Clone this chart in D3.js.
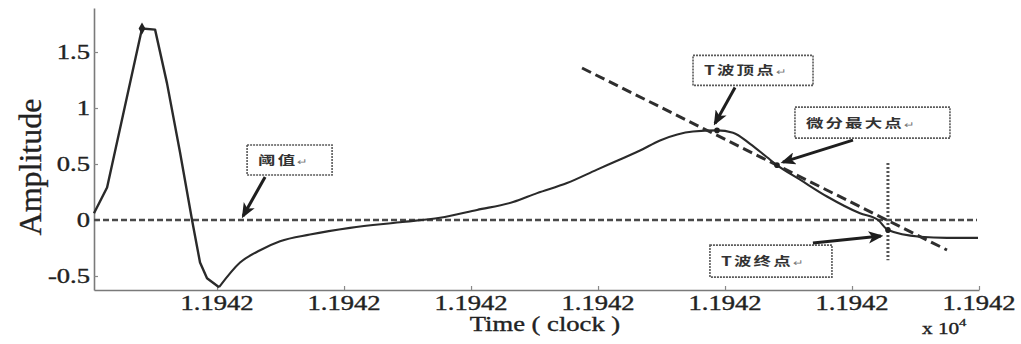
<!DOCTYPE html>
<html>
<head>
<meta charset="utf-8">
<script src="https://cdn.jsdelivr.net/npm/d3@7"></script>
<style>
  html, body { margin: 0; padding: 0; background: #ffffff; }
  svg { display: block; }
</style>
</head>
<body>
<svg id="chart" width="1021" height="344"></svg>
<script>
// ECG beat: amplitude against time (clock counts)
const timeClock = [
  11941.99031, 11941.99134, 11941.99409, 11941.99512, 11941.99606, 11941.99709,
  11941.99803, 11941.99866, 11941.99921, 11942.00016, 11942.00181, 11942.00339,
  11942.00496, 11942.00732, 11942.01047, 11942.01441, 11942.01756, 11942.02047,
  11942.02331, 11942.02520, 11942.02756, 11942.02992, 11942.03173, 11942.03331,
  11942.03488, 11942.03748, 11942.03937, 11942.04063, 11942.04197, 11942.04331,
  11942.04409, 11942.04591, 11942.04803, 11942.05063, 11942.05205, 11942.05283,
  11942.05535, 11942.05748, 11942.05992
];
const amplitude = [
  0.06, 0.29, 1.71, 1.70, 1.22, 0.60,
  0.00, -0.38, -0.52, -0.60, -0.38, -0.27,
  -0.19, -0.13, -0.07, -0.02, 0.02, 0.09,
  0.16, 0.24, 0.33, 0.45, 0.54, 0.62,
  0.71, 0.79, 0.80, 0.78, 0.68, 0.56,
  0.49, 0.36, 0.21, 0.06, 0.00, -0.09,
  -0.15, -0.16, -0.16
];

// indices of the detected feature points
const rPeakIndex = 2;
const sMinIndex = 9;
const tPeakIndex = 26;
const derivMaxIndex = 30;
const tEndIndex = 35;

// threshold level and the tangent drawn through the steepest point
const thresholdValue = 0;
const tangentTime = [11942.02874, 11942.05748];
const tangentAmplitude = [1.357, -0.268];
const tEndMarkerRange = [0.51, -0.36];
const thresholdArrowTime = 11942.00205;

// axes
const xDomain = [11941.99031, 11942.06];
const yDomain = [-0.625, 1.893];
const xTicks = [11942.00, 11942.01, 11942.02, 11942.03, 11942.04, 11942.05, 11942.06];
const xTickLabels = ["1.1942", "1.1942", "1.1942", "1.1942", "1.1942", "1.1942", "1.1942"];
const yTicks = [-0.5, 0, 0.5, 1, 1.5];
const yTickLabels = ["-0.5", "0", "0.5", "1", "1.5"];

const annotationLabels = ["阈值", "T波顶点", "微分最大点", "T波终点"];

const svg = d3.select("#chart");
const serif = "'Liberation Serif', 'Times New Roman', serif";
const cjk = "'Noto Sans CJK SC', 'Noto Sans', sans-serif";
const stretch = 1.33;

const x = d3.scaleLinear().domain(xDomain).range([94, 979]);
const y = d3.scaleLinear().domain(yDomain).range([290, 8]);

svg.append("rect").attr("width", 1021).attr("height", 344).attr("fill", "#ffffff");

// axes: lines and inward ticks
const xAxis = d3.axisBottom(x).tickValues(xTicks).tickFormat("").tickSizeInner(-4).tickSizeOuter(0);
const yAxis = d3.axisLeft(y).tickValues(yTicks).tickFormat("").tickSizeInner(-4).tickSizeOuter(0);
const gx = svg.append("g").attr("transform", `translate(0,${y.range()[0]})`).call(xAxis);
const gy = svg.append("g").attr("transform", `translate(${x.range()[0]},0)`).call(yAxis);
[gx, gy].forEach(g => {
  g.select(".domain").attr("stroke", "#7a7a7a").attr("stroke-width", 1.6);
  g.selectAll(".tick line").attr("stroke", "#888").attr("stroke-width", 1.2);
});

// tick labels
function stretchedText(parent, px, py, str, size, anchor) {
  return parent.append("text")
    .attr("transform", `translate(${px},${py}) scale(${stretch},1)`)
    .attr("text-anchor", anchor)
    .attr("font-family", serif)
    .attr("font-size", size)
    .attr("fill", "#222")
    .attr("stroke", "#222")
    .attr("stroke-width", 0.35)
    .text(str);
}
xTicks.forEach((t, i) => stretchedText(svg, x(t), 310, xTickLabels[i], 20, "middle"));
yTicks.forEach((v, i) => stretchedText(svg, 90, y(v) + 7, yTickLabels[i], 20, "end"));

// axis titles
svg.append("text")
  .attr("transform", `translate(41,${(y.range()[0] + y.range()[1]) / 2 + 18}) rotate(-90)`)
  .attr("text-anchor", "middle")
  .attr("font-family", serif).attr("font-size", 32)
  .attr("fill", "#222").attr("stroke", "#222").attr("stroke-width", 0.3)
  .text("Amplitude");
stretchedText(svg, 545, 331, "Time ( clock )", 20, "middle");
stretchedText(svg, 922, 334, "x 10", 16, "start");
stretchedText(svg, 959, 326, "4", 11, "start");

// threshold line
svg.append("line")
  .attr("x1", x(xDomain[0])).attr("x2", x(xDomain[1]) - 2)
  .attr("y1", y(thresholdValue)).attr("y2", y(thresholdValue))
  .attr("stroke", "#4a4a4a").attr("stroke-width", 2.6)
  .attr("stroke-dasharray", "6,3");

// vertical marker at the T-wave end
svg.append("line")
  .attr("x1", x(timeClock[tEndIndex])).attr("x2", x(timeClock[tEndIndex]))
  .attr("y1", y(tEndMarkerRange[0])).attr("y2", y(tEndMarkerRange[1]))
  .attr("stroke", "#555").attr("stroke-width", 3)
  .attr("stroke-dasharray", "2,2");

// signal: QRS complex as straight sample-to-sample segments, the rest smoothed
const pts = timeClock.map((t, i) => [t, amplitude[i]]);
const lineGen = d3.line().x(d => x(d[0])).y(d => y(d[1]));
svg.append("path")
  .datum(pts.slice(0, sMinIndex + 1))
  .attr("fill", "none")
  .attr("stroke", "#2a2a2a")
  .attr("stroke-width", 2.4)
  .attr("stroke-linejoin", "round")
  .attr("d", lineGen.curve(d3.curveLinear));
svg.append("path")
  .datum(pts.slice(sMinIndex))
  .attr("fill", "none")
  .attr("stroke", "#2a2a2a")
  .attr("stroke-width", 2.1)
  .attr("stroke-linejoin", "round")
  .attr("d", lineGen.curve(d3.curveMonotoneX));

// tangent line
svg.append("line")
  .attr("x1", x(tangentTime[0])).attr("y1", y(tangentAmplitude[0]))
  .attr("x2", x(tangentTime[1])).attr("y2", y(tangentAmplitude[1]))
  .attr("stroke", "#2e2e2e").attr("stroke-width", 3)
  .attr("stroke-dasharray", "10,5");

// feature point markers
svg.append("path")
  .attr("transform", `translate(${x(timeClock[rPeakIndex])},${y(amplitude[rPeakIndex])})`)
  .attr("d", d3.symbol(d3.symbolDiamond, 40)())
  .attr("fill", "#222");
[tPeakIndex, derivMaxIndex, tEndIndex].forEach(i => {
  svg.append("circle")
    .attr("cx", x(timeClock[i])).attr("cy", y(amplitude[i]))
    .attr("r", 2.8).attr("fill", "#222");
});

// annotation callouts
const defs = svg.append("defs");
defs.append("marker")
  .attr("id", "arrowhead")
  .attr("viewBox", "0 0 12 10")
  .attr("refX", 10).attr("refY", 5)
  .attr("markerWidth", 5).attr("markerHeight", 4.2)
  .attr("orient", "auto")
  .attr("markerUnits", "strokeWidth")
  .append("path")
  .attr("d", "M0,0 L12,5 L0,10 L3,5 Z")
  .attr("fill", "#1e1e1e");

const anchors = [
  [x(thresholdArrowTime), y(thresholdValue)],
  [x(timeClock[tPeakIndex]), y(amplitude[tPeakIndex])],
  [x(timeClock[derivMaxIndex]), y(amplitude[derivMaxIndex])],
  [x(timeClock[tEndIndex]), y(amplitude[tEndIndex])]
];
// box offset/size and arrow start/tip, relative to each anchor point
const callouts = [
  { box: [4, -75, 85, 30],    from: [22, -43],  to: [0, -4] },
  { box: [-24, -75, 120, 30], from: [18, -43],  to: [-2, -7] },
  { box: [18, -58, 155, 31],  from: [76, -25],  to: [6, -3] },
  { box: [-178, 15, 122, 32], from: [-75, 13],  to: [-7, 6] }
];

callouts.forEach((c, i) => {
  const [ax, ay] = anchors[i];
  const g = svg.append("g");
  g.append("rect")
    .attr("x", ax + c.box[0]).attr("y", ay + c.box[1])
    .attr("width", c.box[2]).attr("height", c.box[3])
    .attr("fill", "#ffffff")
    .attr("stroke", "#5a5a5a").attr("stroke-width", 1.6)
    .attr("stroke-dasharray", "2,1");
  const t = g.append("text")
    .attr("transform", `translate(${ax + c.box[0] + 11},${ay + c.box[1] + c.box[3] / 2 + 5}) scale(1.4,1)`)
    .attr("font-family", cjk)
    .attr("font-size", 12.5)
    .attr("font-weight", 700)
    .attr("letter-spacing", 1.5)
    .attr("fill", "#333");
  t.append("tspan").text(annotationLabels[i]);
  t.append("tspan").attr("font-size", 9).attr("font-weight", 400).attr("fill", "#777").text("↵");
  g.append("line")
    .attr("x1", ax + c.from[0]).attr("y1", ay + c.from[1])
    .attr("x2", ax + c.to[0]).attr("y2", ay + c.to[1])
    .attr("stroke", "#1e1e1e").attr("stroke-width", 3)
    .attr("marker-end", "url(#arrowhead)");
});
</script>
</body>
</html>
